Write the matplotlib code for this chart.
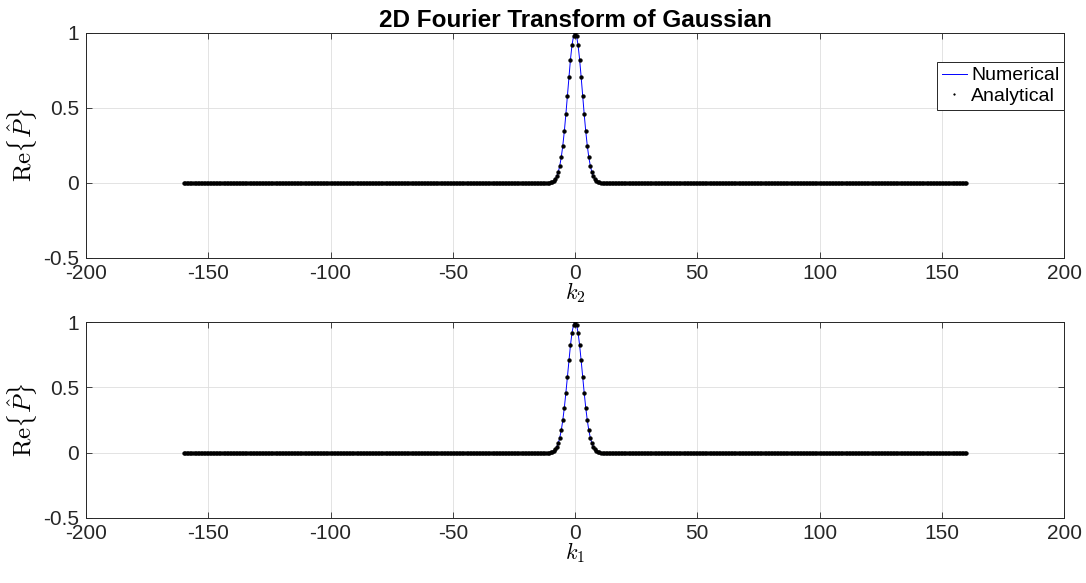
import numpy as np
import matplotlib
matplotlib.use("Agg")
import matplotlib.pyplot as plt

# Wavenumber sampling grid
k_min, k_max, n_points = -160.0, 160.0, 513

# Real part of the transformed Gaussian around k = 0 (grid step 0.625),
# samples from k = -10 to k = 10; the spectrum is zero elsewhere.
peak_values = [
    0.0039, 0.0076, 0.0142, 0.0255, 0.0439, 0.0724, 0.1141, 0.1724,
    0.2494, 0.3453, 0.4578, 0.5813, 0.7066, 0.8226, 0.9169, 0.9785,
    1.0000,
    0.9785, 0.9169, 0.8226, 0.7066, 0.5813, 0.4578, 0.3453, 0.2494,
    0.1724, 0.1141, 0.0724, 0.0439, 0.0255, 0.0142, 0.0076, 0.0039,
]

x_ticks = [-200, -150, -100, -50, 0, 50, 100, 150, 200]
y_ticks = [-0.5, 0, 0.5, 1]
y_tick_labels = ["-0.5", "0", "0.5", "1"]
x_tick_labels = ["-200", "-150", "-100", "-50", "0", "50", "100", "150", "200"]

title_text = "2D Fourier Transform of Gaussian"
ylabel_text = r"$\mathrm{Re}\{\hat{P}\}$"
xlabels = [r"$k_2$", r"$k_1$"]
legend_labels = ["Numerical", "Analytical"]

# Assemble the sampled spectrum on the full grid
k = np.linspace(k_min, k_max, n_points)
spectrum = np.zeros(n_points)
mid = n_points // 2
half = len(peak_values) // 2
spectrum[mid - half: mid + half + 1] = peak_values
numerical = spectrum
analytical = spectrum

plt.rcParams["font.family"] = ["Liberation Sans", "DejaVu Sans"]
plt.rcParams["mathtext.fontset"] = "cm"
plt.rcParams["axes.unicode_minus"] = False

fig = plt.figure(figsize=(10.86, 5.83), dpi=100)
ax_top = fig.add_axes([0.0792, 0.5575, 0.9006, 0.386])
ax_bot = fig.add_axes([0.0792, 0.1115, 0.9006, 0.336])

axis_color = (0.15, 0.15, 0.15)

for ax, xl in zip([ax_top, ax_bot], xlabels):
    ax.plot(k, numerical, color="blue", linewidth=0.7, label=legend_labels[0], zorder=3)
    ax.plot(k, analytical, linestyle="none", marker=".", markersize=5.5,
            markeredgewidth=0.3, color="black", antialiased=False,
            label=legend_labels[1], zorder=4)
    ax.set_xlim(-200, 200)
    ax.set_ylim(-0.5, 1)
    ax.set_xticks(x_ticks)
    ax.set_xticklabels(x_tick_labels)
    ax.set_yticks(y_ticks)
    ax.set_yticklabels(y_tick_labels)
    ax.tick_params(direction="in", length=4, width=0.6, colors=axis_color,
                   labelsize=15, top=True, right=True, pad=5)
    ax.tick_params(axis="x", pad=4)
    ax.grid(True, color=(0.87, 0.87, 0.87), linewidth=0.6)
    ax.set_axisbelow(True)
    for sp in ax.spines.values():
        sp.set_color(axis_color)
        sp.set_linewidth(0.7)
    ax.set_xlabel(xl, fontsize=16, labelpad=-2)
    ax.set_ylabel(ylabel_text, fontsize=18, labelpad=3)

ax_top.set_title(title_text, fontsize=17.5, fontweight="bold", pad=4)

leg = ax_top.legend(loc="upper right", bbox_to_anchor=(1.0, 0.871),
                    borderaxespad=0, fontsize=14, handlelength=1.3,
                    handletextpad=0.2, borderpad=0.25, labelspacing=0.15,
                    markerscale=0.45, fancybox=False, framealpha=1,
                    edgecolor=axis_color)
leg.get_frame().set_linewidth(0.7)

fig.savefig("out.png", dpi=100)
